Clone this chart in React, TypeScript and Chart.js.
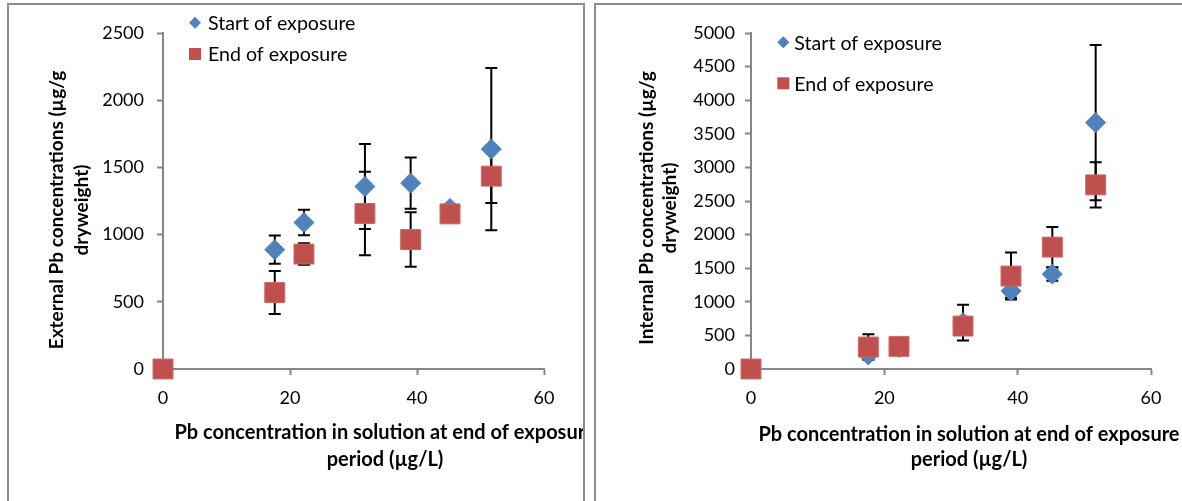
import React, { useEffect, useRef } from "react";
import { Chart, registerables } from "chart.js";
import { drawPoint } from "chart.js/helpers";

Chart.register(...registerables);

// ---------- data ----------
const concentrations = [0, 17.6, 22.2, 31.8, 39.0, 45.2, 51.7];

const externalStart = [0, 888, 1090, 1358, 1383, 1195, 1636];
const externalStartErr = [0, 105, 95, 316, 190, 30, 604];
const externalEnd = [0, 569, 855, 1157, 963, 1154, 1435];
const externalEndErr = [0, 160, 80, 310, 203, 40, 200];

const internalStart = [0, 210, 320, 690, 1160, 1412, 3667];
const internalStartErr = [0, 60, 40, 265, 100, 100, 1154];
const internalEnd = [0, 327, 337, 639, 1383, 1814, 2740];
const internalEndErr = [0, 190, 30, 60, 350, 300, 335];

const seriesLabels = ["Start of exposure", "End of exposure"];
const xTicks = [0, 20, 40, 60];
const externalYMax = 2500;
const internalYMax = 5000;
const yStep = 500;

const xTitleLines = ["Pb concentration in solution at end of exposure", "period (µg/L)"];
const externalYTitle = ["External Pb concentrations (µg/g", "dryweight)"];
const internalYTitle = ["Internal Pb concentrations (µg/g", "dryweight)"];

// ---------- styles ----------
const FONT = "Lato, 'Open Sans', sans-serif";
const BLUE = "#4F81BD";
const RED = "#C0504D";
const AXIS = "#878787";

type Layout = {
  width: number;
  height: number;
  left: number;
  right: number;
  top: number;
  bottom: number;
  yPad: number;
  yTitleX: number[];
  yTitleY: number;
  xTitleX: number;
  xTitleY: number[];
  legendX: number;
  legendTextX: number;
  legendY: number[];
};

function makeErrorPlugin(errors: number[][]) {
  return {
    id: "errorBars",
    beforeDatasetsDraw(chart: any) {
      const ctx = chart.ctx;
      const xs = chart.scales.x;
      const ys = chart.scales.y;
      ctx.save();
      ctx.strokeStyle = "#000";
      ctx.lineWidth = 2;
      chart.data.datasets.forEach((ds: any, i: number) => {
        const err = errors[i];
        ds.data.forEach((p: any, j: number) => {
          const e = err[j];
          if (!e) return;
          const px = xs.getPixelForValue(p.x);
          const top = ys.getPixelForValue(p.y + e);
          const bot = ys.getPixelForValue(p.y - e);
          ctx.beginPath();
          ctx.moveTo(px, top);
          ctx.lineTo(px, bot);
          ctx.moveTo(px - 6, top);
          ctx.lineTo(px + 6, top);
          ctx.moveTo(px - 6, bot);
          ctx.lineTo(px + 6, bot);
          ctx.stroke();
        });
      });
      ctx.restore();
    },
  };
}

function makeTextPlugin(L: Layout, yTitle: string[]) {
  return {
    id: "textDecor",
    afterDraw(chart: any) {
      const ctx = chart.ctx;
      ctx.save();
      ctx.fillStyle = "#000";
      ctx.textAlign = "center";
      ctx.textBaseline = "middle";
      ctx.font = `bold 19px ${FONT}`;
      yTitle.forEach((line, i) => {
        ctx.save();
        ctx.translate(L.yTitleX[i], L.yTitleY);
        ctx.rotate(-Math.PI / 2);
        ctx.fillText(line, 0, 0);
        ctx.restore();
      });
      ctx.font = `bold 20px ${FONT}`;
      xTitleLines.forEach((line, i) => {
        ctx.fillText(line, L.xTitleX, L.xTitleY[i]);
      });
      // legend
      const styles = [
        { pointStyle: "rectRot", radius: 6, color: BLUE },
        { pointStyle: "rect", radius: 8.5, color: RED },
      ];
      ctx.font = `19.6px ${FONT}`;
      ctx.textAlign = "left";
      seriesLabels.forEach((label, i) => {
        const s = styles[i];
        ctx.fillStyle = s.color;
        ctx.strokeStyle = s.color;
        drawPoint(ctx, { pointStyle: s.pointStyle as any, radius: s.radius, borderWidth: 0, rotation: 0 } as any, L.legendX, L.legendY[i]);
        ctx.fillStyle = "#000";
        ctx.fillText(label, L.legendTextX, L.legendY[i] + 1);
      });
      ctx.restore();
    },
  };
}

function buildPoints(ys: number[]) {
  return concentrations.map((x, i) => ({ x, y: ys[i] }));
}

function ScatterPanel(props: {
  layout: Layout;
  start: number[];
  startErr: number[];
  end: number[];
  endErr: number[];
  yMax: number;
  yTitle: string[];
}) {
  const ref = useRef<HTMLCanvasElement | null>(null);
  const { layout: L } = props;
  useEffect(() => {
    if (!ref.current) return;
    const chart = new Chart(ref.current, {
      type: "scatter",
      data: {
        datasets: [
          {
            label: seriesLabels[0],
            data: buildPoints(props.start),
            pointStyle: "rectRot",
            pointRadius: 10,
            pointBackgroundColor: BLUE,
            pointBorderColor: BLUE,
            pointBorderWidth: 1,
            order: 1,
            clip: false as any,
          },
          {
            label: seriesLabels[1],
            data: buildPoints(props.end),
            pointStyle: "rect",
            pointRadius: 14.1,
            pointBackgroundColor: RED,
            pointBorderColor: "#c86a67",
            pointBorderWidth: 1,
            order: 0,
            clip: false as any,
          },
        ],
      },
      options: {
        animation: false,
        responsive: false,
        events: [],
        layout: {
          padding: { left: 0, top: L.top, right: L.width - L.right, bottom: 0 },
        },
        plugins: {
          legend: { display: false },
          tooltip: { enabled: false },
        },
        scales: {
          x: {
            type: "linear",
            min: 0,
            max: 60,
            afterBuildTicks: (s: any) => {
              s.ticks = xTicks.map((v) => ({ value: v }));
            },
            afterFit: (s: any) => {
              s.height = L.height - L.bottom;
            },
            ticks: {
              color: "#000",
              font: { family: FONT, size: 18 },
              padding: 12,
              maxRotation: 0,
              callback: (v: any) => String(v),
            },
            grid: {
              drawOnChartArea: false,
              tickLength: 6,
              tickColor: AXIS,
              tickWidth: 2,
            },
            border: { display: true, color: AXIS, width: 2 },
          },
          y: {
            type: "linear",
            min: 0,
            max: props.yMax,
            ticks: {
              stepSize: yStep,
              color: "#000",
              font: { family: FONT, size: 18 },
              padding: L.yPad,
              callback: (v: any) => String(v),
            },
            afterFit: (s: any) => {
              s.width = L.left;
            },
            grid: {
              drawOnChartArea: false,
              tickLength: 6,
              tickColor: AXIS,
              tickWidth: 2,
            },
            border: { display: true, color: AXIS, width: 2 },
          },
        },
      },
      plugins: [makeErrorPlugin([props.startErr, props.endErr]), makeTextPlugin(L, props.yTitle)],
    });
    return () => chart.destroy();
  }, []);
  return <canvas ref={ref} width={L.width} height={L.height} style={{ display: "block" }} />;
}

const leftLayout: Layout = {
  width: 574,
  height: 496,
  left: 154,
  right: 535,
  top: 28,
  bottom: 364,
  yPad: 13,
  yTitleX: [47.7, 72.7],
  yTitleY: 205,
  xTitleX: 376,
  xTitleY: [428, 455],
  legendX: 186,
  legendTextX: 199,
  legendY: [17.7, 49],
};

const rightLayout: Layout = {
  width: 586,
  height: 496,
  left: 155,
  right: 555,
  top: 28,
  bottom: 364,
  yPad: 10,
  yTitleX: [50.7, 74],
  yTitleY: 203,
  xTitleX: 373,
  xTitleY: [430, 455],
  legendX: 187.3,
  legendTextX: 198.3,
  legendY: [37.3, 78.3],
};

export default function App() {
  const panelBase: React.CSSProperties = {
    position: "absolute",
    top: 3,
    height: 520,
    border: "2px solid #8c8c8c",
    boxSizing: "content-box",
    overflow: "hidden",
    background: "#fff",
  };
  return (
    <div
      style={{
        position: "fixed",
        left: 0,
        top: 0,
        width: 1182,
        height: 501,
        overflow: "hidden",
        background: "#fff",
      }}
    >
      <div style={{ ...panelBase, left: 7, width: 574 }}>
        <ScatterPanel
          layout={leftLayout}
          start={externalStart}
          startErr={externalStartErr}
          end={externalEnd}
          endErr={externalEndErr}
          yMax={externalYMax}
          yTitle={externalYTitle}
        />
      </div>
      <div style={{ ...panelBase, left: 594, width: 620 }}>
        <ScatterPanel
          layout={rightLayout}
          start={internalStart}
          startErr={internalStartErr}
          end={internalEnd}
          endErr={internalEndErr}
          yMax={internalYMax}
          yTitle={internalYTitle}
        />
      </div>
    </div>
  );
}
